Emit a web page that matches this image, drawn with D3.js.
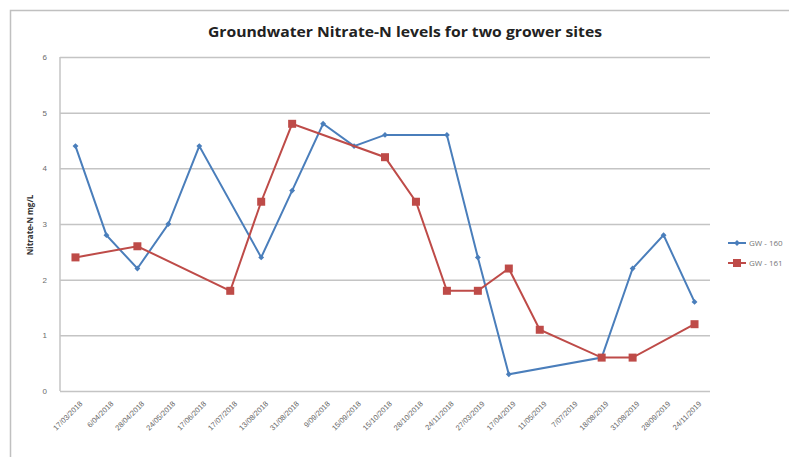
<!DOCTYPE html>
<html>
<head>
<meta charset="utf-8">
<script src="https://cdn.jsdelivr.net/npm/d3@7"></script>
<style>
  body { margin: 0; background: #fff; }
  svg { display: block; font-family: "Open Sans", "Liberation Sans", sans-serif; }
</style>
</head>
<body>
<svg id="chart" width="789" height="457"></svg>
<script>
// sample dates (category axis)
const dates = ["17/03/2018", "6/04/2018", "28/04/2018", "24/05/2018", "17/06/2018", "17/07/2018",
  "13/08/2018", "31/08/2018", "9/09/2018", "15/09/2018", "15/10/2018", "28/10/2018", "24/11/2018",
  "27/03/2019", "17/04/2019", "11/05/2019", "7/07/2019", "18/08/2019", "31/08/2019", "28/09/2019",
  "24/11/2019"];
// null = no sample, line is joined across the gap
const gw160 = [4.4, 2.8, 2.2, 3.0, 4.4, null, 2.4, 3.6, 4.8, 4.4, 4.6, null, 4.6, 2.4, 0.3,
  null, null, 0.6, 2.2, 2.8, 1.6];
const gw161 = [2.4, null, 2.6, null, null, 1.8, 3.4, 4.8, null, null, 4.2, 3.4, 1.8, 1.8, 2.2,
  1.1, null, 0.6, 0.6, null, 1.2];
const yTicks = [0, 1, 2, 3, 4, 5, 6];

const series = [
  { name: "GW - 160", values: gw160, color: "#4a7ebb", marker: "diamond" },
  { name: "GW - 161", values: gw161, color: "#be4b48", marker: "square" }
];

const svg = d3.select("#chart");
const plot = { left: 60, right: 710, top: 57, bottom: 391 };

// outer chart frame (cropped at right/bottom)
svg.append("path")
  .attr("d", "M10.5,457 V10.5 H789")
  .attr("fill", "none")
  .attr("stroke", "#c0c0c0")
  .attr("stroke-width", 1.5);

const x = d3.scaleBand()
  .domain(dates)
  .range([plot.left, plot.right]);

const y = d3.scaleLinear()
  .domain([0, 6])
  .range([plot.bottom, plot.top]);

// gridlines + y axis
const yAxis = svg.append("g")
  .attr("transform", "translate(" + plot.left + ",0)")
  .call(d3.axisLeft(y).tickValues(yTicks).tickFormat(d3.format("d"))
    .tickSize(-(plot.right - plot.left)).tickPadding(13));
yAxis.select(".domain").remove();
yAxis.selectAll("line").attr("stroke", "#c4c4c4").attr("stroke-width", 1.5);
yAxis.selectAll("text").attr("fill", "#6a6a6a").style("font-size", "8px");

// left axis line
svg.append("line")
  .attr("x1", plot.left).attr("x2", plot.left)
  .attr("y1", plot.top).attr("y2", plot.bottom)
  .attr("stroke", "#c4c4c4").attr("stroke-width", 1.5);

// x axis
const xAxis = svg.append("g")
  .attr("transform", "translate(0," + plot.bottom + ")")
  .call(d3.axisBottom(x).tickSize(0).tickPadding(8));
xAxis.select(".domain").remove();
xAxis.selectAll("text")
  .attr("fill", "#666")
  .style("font-size", "7.5px")
  .attr("transform", "translate(-2,4)rotate(-45)")
  .style("text-anchor", "end");

const line = d3.line()
  .x(d => x(d.date) + x.bandwidth() / 2)
  .y(d => y(d.v));

function drawMarker(g, s, cx, cy) {
  if (s.marker === "diamond") {
    g.append("path")
      .attr("d", d3.symbol(d3.symbolDiamond2, 22)())
      .attr("transform", "translate(" + cx + "," + cy + ")")
      .attr("fill", s.color);
  } else {
    g.append("rect")
      .attr("x", cx - 4).attr("y", cy - 4)
      .attr("width", 8).attr("height", 8)
      .attr("fill", s.color);
  }
}

series.forEach(s => {
  const pts = dates.map((d, i) => ({ date: d, v: s.values[i] })).filter(p => p.v !== null);
  const g = svg.append("g");
  g.append("path")
    .datum(pts)
    .attr("d", line)
    .attr("fill", "none")
    .attr("stroke", s.color)
    .attr("stroke-width", 2);
  pts.forEach(p => drawMarker(g, s, x(p.date) + x.bandwidth() / 2, y(p.v)));
});

// legend
const legend = svg.append("g").attr("transform", "translate(728,243)");
series.forEach((s, i) => {
  const row = legend.append("g").attr("transform", "translate(0," + (i * 20) + ")");
  row.append("line")
    .attr("x1", 0).attr("x2", 18)
    .attr("stroke", s.color).attr("stroke-width", 2);
  drawMarker(row, s, 9, 0);
  row.append("text")
    .attr("x", 21).attr("y", 3)
    .attr("fill", "#777")
    .style("font-size", "8px")
    .text(s.name);
});

// title
svg.append("text")
  .attr("x", 405).attr("y", 37)
  .attr("text-anchor", "middle")
  .style("font-size", "14px")
  .style("font-weight", "bold")
  .attr("fill", "#222")
  .attr("textLength", 394)
  .attr("lengthAdjust", "spacingAndGlyphs")
  .text("Groundwater Nitrate-N levels for two grower sites");

// y axis title
svg.append("text")
  .attr("transform", "translate(33,225)rotate(-90)")
  .attr("text-anchor", "middle")
  .style("font-size", "8px")
  .style("font-weight", "bold")
  .attr("fill", "#333")
  .text("Nitrate-N mg/L");
</script>
</body>
</html>
